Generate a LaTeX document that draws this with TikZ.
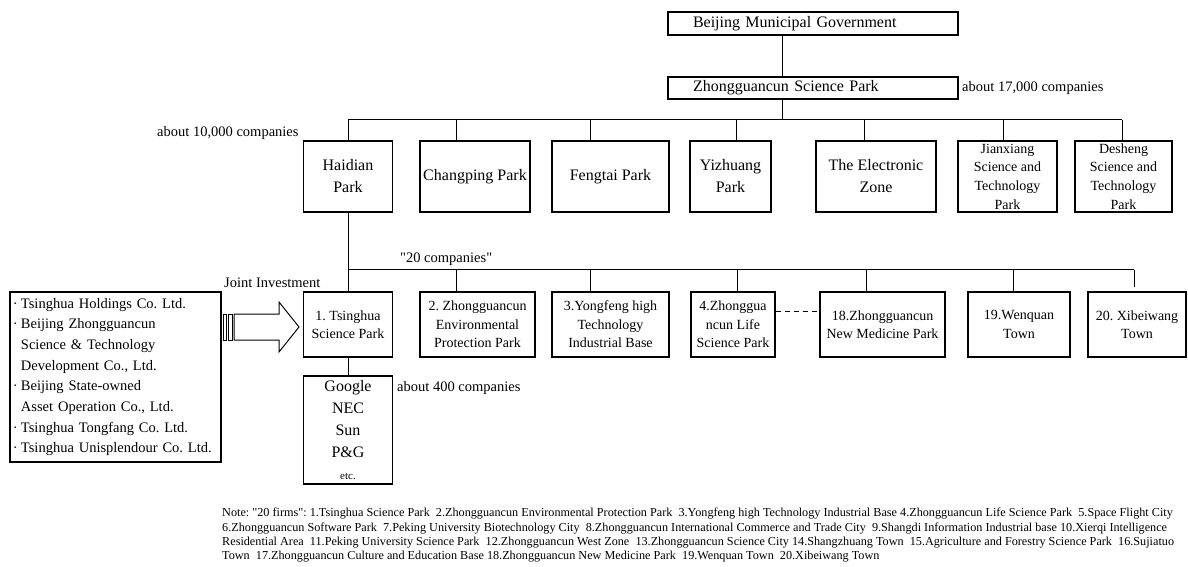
\documentclass[tikz,border=0pt]{standalone}
\usepackage{fontspec}
\setmainfont{Liberation Serif}[Ligatures=TeXOff]
\frenchspacing
\begin{document}
\begin{tikzpicture}[x=1bp,y=-1bp,
  box/.style={draw, line width=1.1bp, inner sep=0pt, align=center, font=\fontsize{16bp}{22bp}\selectfont},
  sbox/.style={box, minimum height=65bp, font=\fontsize{14bp}{18.5bp}\selectfont},
  rbox/.style={box, minimum height=71bp},
  tbox/.style={box, minimum height=71bp, font=\fontsize{14bp}{18.7bp}\selectfont},
  conn/.style={line width=1bp},
  lbl/.style={inner sep=0pt, anchor=west, font=\fontsize{14.5bp}{17bp}\selectfont}]
\useasboundingbox (0,0) rectangle (1188,567);

% top
\node[box, minimum width=290bp, minimum height=23bp, text width=240bp, inner xsep=25bp, align=left] (bmg) at (813,23.5) {Beijing Municipal Government};
\node[box, minimum width=290bp, minimum height=22bp, text width=240bp, inner xsep=25bp, align=left] (zsp) at (813,88) {Zhongguancun Science Park};
\node[lbl] (l17) at (962,88) {about 17,000 companies};

% row 1
\node[rbox, minimum width=89bp] (haidian) at (348,176.5) {Haidian\\Park};
\node[rbox, minimum width=110bp] (changping) at (475,176.5) {Changping Park};
\node[rbox, minimum width=117bp] (fengtai) at (610.5,176.5) {Fengtai Park};
\node[rbox, minimum width=81bp] (yizhuang) at (730.5,176.5) {Yizhuang\\Park};
\node[rbox, minimum width=120bp] (ezone) at (876,176.5) {The Electronic\\Zone};
\node[tbox, minimum width=99bp] (jianxiang) at (1007.5,176.5) {Jianxiang\\Science and\\Technology\\Park};
\node[tbox, minimum width=97bp] (desheng) at (1123.5,176.5) {Desheng\\Science and\\Technology\\Park};
\node[lbl] (l10) at (157,133) {about 10,000 companies};

\coordinate (t1) at (782,120);
\draw[conn] (bmg.south -| t1) -- (zsp.north -| t1);
\draw[conn] (zsp.south -| t1) -- (t1);
\coordinate (b1L) at (348,120);
\coordinate (b1R) at (1122,120);
\draw[conn] (b1L) -- (b1R);
\foreach \xx/\nn in {348/haidian,456/changping,590/fengtai,736/yizhuang,864/ezone,1003/jianxiang,1122/desheng}{
  \coordinate (tmp) at (\xx,120);
  \draw[conn] (tmp) -- (tmp |- \nn.north);
}

% row 2
\node[sbox, minimum width=89bp] (ts) at (348,324.5) {1. Tsinghua\\Science Park};
\node[sbox, minimum width=115bp] (z2) at (477.5,324.5) {2. Zhongguancun\\Environmental\\Protection Park};
\node[sbox, minimum width=117bp] (z3) at (610.5,324.5) {3.Yongfeng high\\Technology\\Industrial Base};
\node[sbox, minimum width=84bp] (z4) at (733,324.5) {4.Zhonggua\\ncun Life\\Science Park};
\node[sbox, minimum width=125bp] (z18) at (882.5,324.5) {18.Zhongguancun\\New Medicine Park};
\node[sbox, minimum width=102bp] (z19) at (1019,324.5) {19.Wenquan\\Town};
\node[sbox, minimum width=98bp] (z20) at (1137,324.5) {20. Xibeiwang\\Town};
\node[lbl] (l20) at (400,259) {"20 companies"};
\node[lbl] (lji) at (224,283) {Joint Investment};

\draw[conn] (haidian.south) -- (ts.north);
\coordinate (b2L) at (348,270);
\coordinate (b2R) at (1134,270);
\draw[conn] (b2L) -- (b2R);
\foreach \xx/\nn in {456/z2,590/z3,737/z4,866/z18,1013/z19}{
  \coordinate (tmp) at (\xx,270);
  \draw[conn] (tmp) -- (tmp |- \nn.north);
}
\draw[conn, shorten >=4bp] (b2R) -- (b2R |- z20.north);
\coordinate (dy) at (0,311);
\draw[conn, dash pattern=on 5bp off 4bp] (z4.east |- dy) -- (z18.west |- dy);

% companies under Tsinghua
\node[box, minimum width=89bp, minimum height=108bp] (google) at (348,430) {Google\\NEC\\Sun\\P\&G\\{\fontsize{11bp}{13bp}\selectfont etc.}};
\draw[conn] (ts.south) -- (google.north);
\node[lbl] (l400) at (397,388) {about 400 companies};

% investors
\node[draw, line width=1.1bp, inner xsep=3bp, inner ysep=0pt, text width=205bp, minimum height=170bp, align=left, font=\fontsize{14.5bp}{20.7bp}\selectfont] (inv) at (115.5,377) {%
\makebox[8bp][l]{·}Tsinghua Holdings Co. Ltd.\\
\makebox[8bp][l]{·}Beijing Zhongguancun\\
\hspace*{8bp}Science \& Technology\\
\hspace*{8bp}Development Co., Ltd.\\
\makebox[8bp][l]{·}Beijing State-owned\\
\hspace*{8bp}Asset Operation Co., Ltd.\\
\makebox[8bp][l]{·}Tsinghua Tongfang Co. Ltd.\\
\makebox[8bp][l]{·}Tsinghua Unisplendour Co. Ltd.};

% striped block arrow
\draw[line width=0.8bp, fill=white] (223,314) rectangle (226,340);
\draw[line width=0.8bp, fill=white] (228,314) rectangle (232,340);
\draw[line width=1bp, fill=white] (234,314) -- (279,314) -- (279,302) -- (299,327) -- (279,352) -- (279,340) -- (234,340) -- cycle;

% note
\node[anchor=north west, inner sep=0pt, align=left, font=\fontsize{12.2bp}{14.4bp}\selectfont] (note) at (222,508) {%
Note: "20 firms": 1.Tsinghua Science Park\ \ 2.Zhongguancun Environmental Protection Park\ \ 3.Yongfeng high Technology Industrial Base 4.Zhongguancun Life Science Park\ \ 5.Space Flight City\\
6.Zhongguancun Software Park\ \ 7.Peking University Biotechnology City\ \ 8.Zhongguancun International Commerce and Trade City\ \ 9.Shangdi Information Industrial base 10.Xierqi Intelligence\\
Residential Area\ \ 11.Peking University Science Park\ \ 12.Zhongguancun West Zone\ \ 13.Zhongguancun Science City 14.Shangzhuang Town\ \ 15.Agriculture and Forestry Science Park\ \ 16.Sujiatuo\\
Town\ \ 17.Zhongguancun Culture and Education Base 18.Zhongguancun New Medicine Park\ \ 19.Wenquan Town\ \ 20.Xibeiwang Town};
\end{tikzpicture}
\end{document}
